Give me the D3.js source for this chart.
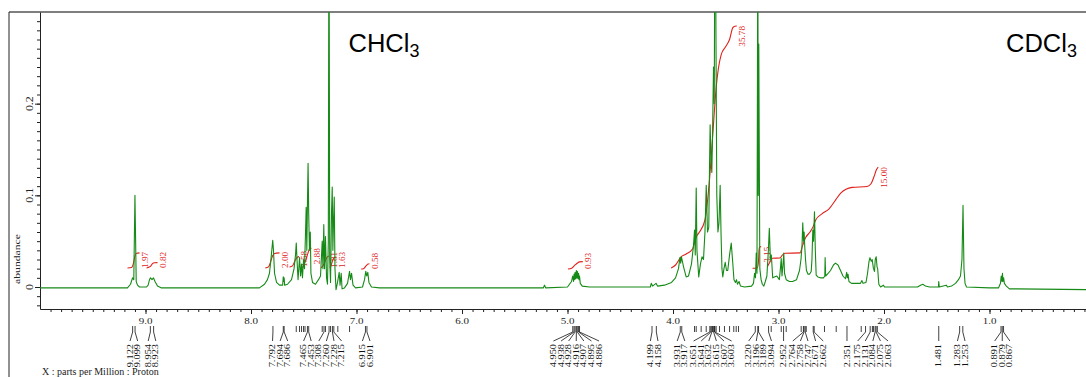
<!DOCTYPE html>
<html><head><meta charset="utf-8">
<script src="https://cdn.jsdelivr.net/npm/d3@7"></script>
<style>
html,body{margin:0;padding:0;background:#fff;}
svg{display:block;}
.serif{font-family:"Liberation Serif","Times New Roman",serif;}
.sans{font-family:"Liberation Sans",Arial,sans-serif;}
</style></head><body>
<svg id="c" width="1086" height="377"></svg>
<script>
// ---------- DATA ----------
const xMajorTicks = [9,8,7,6,5,4,3,2,1];
const xTickLabels = ["9.0","8.0","7.0","6.0","5.0","4.0","3.0","2.0","1.0"];
const yMajorTicks = [0,0.1,0.2];
const yTickLabels = ["0","0.1","0.2"];

// spectrum vertices [ppm, abundance]
const spectrum = [
[10.0,-0.001],[9.171,-0.001],[9.142,0.003],[9.123,0.010],[9.111,0.008],[9.100,0.100],[9.088,0.006],[9.076,0.002],[9.057,0.000],[8.990,0.000],[8.975,0.002],[8.962,0.008],[8.953,0.010],[8.938,0.008],[8.924,0.010],[8.910,0.006],[8.886,0.001],[8.848,-0.001],
[7.920,-0.001],[7.872,0.003],[7.844,0.008],[7.825,0.015],[7.811,0.030],[7.794,0.051],[7.787,0.040],[7.777,0.015],[7.758,0.005],[7.730,0.002],[7.700,0.002],[7.694,0.011],[7.690,0.006],[7.686,0.010],[7.681,0.002],[7.654,0.003],[7.616,0.008],[7.592,0.020],[7.578,0.035],[7.571,0.048],[7.564,0.030],[7.554,0.008],[7.540,0.032],[7.530,0.012],[7.521,0.025],[7.512,0.010],[7.502,0.030],[7.493,0.020],[7.483,0.060],[7.477,0.087],[7.471,0.040],[7.465,0.090],[7.459,0.135],[7.453,0.080],[7.446,0.040],[7.438,0.060],[7.432,0.015],[7.417,0.005],[7.389,0.003],[7.360,0.008],[7.341,0.012],[7.325,0.050],[7.318,0.020],[7.310,0.068],[7.303,0.020],[7.294,0.055],[7.284,0.010],[7.275,0.003],[7.267,0.050],[7.261,0.450],[7.254,0.030],[7.246,0.005],[7.237,0.080],[7.230,0.109],[7.224,0.040],[7.218,0.070],[7.211,0.098],[7.204,0.020],[7.194,-0.003],[7.180,0.005],[7.164,0.016],[7.156,0.002],[7.145,0.015],[7.137,-0.002],[7.114,-0.001],[7.085,0.004],[7.066,0.017],[7.057,0.008],[7.047,0.015],[7.033,0.002],[7.009,-0.001],[6.943,0.000],[6.924,0.008],[6.912,0.017],[6.903,0.012],[6.893,0.016],[6.882,0.005],[6.858,0.000],[6.782,-0.001],
[5.230,-0.001],[5.218,0.002],[5.206,-0.001],[5.000,0.000],[4.981,0.003],[4.962,0.006],[4.951,0.012],[4.943,0.006],[4.938,0.014],[4.931,0.008],[4.928,0.016],[4.920,0.009],[4.916,0.018],[4.909,0.010],[4.907,0.017],[4.900,0.009],[4.895,0.015],[4.890,0.008],[4.886,0.012],[4.879,0.004],[4.860,0.001],[4.791,0.000],[4.215,0.000],[4.206,0.004],[4.194,0.001],[4.161,0.004],[4.147,0.001],[4.081,0.002],[4.014,0.005],[3.976,0.010],[3.948,0.020],[3.934,0.032],[3.927,0.026],[3.920,0.033],[3.900,0.022],[3.875,0.011],[3.853,0.012],[3.825,0.025],[3.806,0.045],[3.796,0.062],[3.789,0.035],[3.780,0.108],[3.773,0.040],[3.756,0.011],[3.740,0.025],[3.725,0.033],[3.711,0.030],[3.697,0.060],[3.685,0.111],[3.673,0.060],[3.661,0.065],[3.654,0.130],[3.648,0.177],[3.640,0.140],[3.632,0.125],[3.626,0.160],[3.616,0.240],[3.609,0.200],[3.600,0.500],[3.593,0.280],[3.585,0.100],[3.574,0.060],[3.564,0.070],[3.553,0.111],[3.545,0.060],[3.536,0.020],[3.528,0.011],[3.517,0.020],[3.505,0.027],[3.493,0.018],[3.481,0.018],[3.464,0.035],[3.448,0.048],[3.436,0.030],[3.422,0.008],[3.408,0.005],[3.398,0.008],[3.389,0.003],[3.374,0.006],[3.360,0.001],[3.322,0.000],[3.256,0.001],[3.237,0.004],[3.227,0.015],[3.218,0.010],[3.211,0.037],[3.204,0.015],[3.196,0.400],[3.192,0.100],[3.187,0.265],[3.177,0.020],[3.165,0.008],[3.153,0.003],[3.139,0.001],[3.125,0.006],[3.110,0.012],[3.103,0.026],[3.096,0.040],[3.087,0.064],[3.077,0.030],[3.068,0.035],[3.055,0.010],[3.039,0.011],[3.016,0.012],[2.992,0.008],[2.982,0.020],[2.974,0.031],[2.967,0.012],[2.957,0.025],[2.950,0.037],[2.943,0.015],[2.927,0.008],[2.896,0.006],[2.867,0.006],[2.829,0.008],[2.801,0.018],[2.787,0.030],[2.777,0.045],[2.770,0.070],[2.763,0.050],[2.757,0.060],[2.751,0.044],[2.744,0.030],[2.735,0.018],[2.720,0.014],[2.706,0.014],[2.690,0.017],[2.683,0.030],[2.675,0.062],[2.668,0.050],[2.659,0.082],[2.651,0.040],[2.643,0.013],[2.627,0.011],[2.602,0.010],[2.574,0.010],[2.561,0.012],[2.558,0.032],[2.553,0.012],[2.536,0.014],[2.507,0.018],[2.479,0.024],[2.460,0.026],[2.436,0.024],[2.412,0.018],[2.389,0.012],[2.365,0.009],[2.354,0.016],[2.348,0.010],[2.341,0.014],[2.332,0.006],[2.308,0.004],[2.261,0.004],[2.223,0.004],[2.209,0.007],[2.199,0.004],[2.171,0.005],[2.166,0.008],[2.156,0.015],[2.142,0.028],[2.133,0.032],[2.121,0.028],[2.112,0.030],[2.100,0.020],[2.090,0.017],[2.083,0.030],[2.074,0.033],[2.066,0.022],[2.060,0.020],[2.049,0.003],[2.033,0.000],[2.005,0.002],[1.995,0.000],[1.682,0.000],[1.654,0.002],[1.632,0.003],[1.607,0.001],[1.569,0.000],[1.484,0.000],[1.481,0.006],[1.476,0.000],[1.410,0.002],[1.398,0.000],[1.360,0.001],[1.322,0.004],[1.294,0.008],[1.275,0.012],[1.261,0.030],[1.251,0.089],[1.242,0.020],[1.232,0.004],[1.218,0.000],[1.000,-0.001],[0.915,-0.001],[0.896,0.004],[0.889,0.012],[0.882,0.006],[0.877,0.015],[0.872,0.006],[0.866,0.010],[0.859,0.004],[0.840,0.001],[0.811,-0.002],[0.000,-0.003]
];

// integral curves [ppm, abundance]
const int197 = [[9.171,0.0208],[9.133,0.0212],[9.114,0.026],[9.100,0.034],[9.085,0.0368],[9.057,0.0372]];
const int082 = [[8.990,0.0208],[8.953,0.0225],[8.934,0.0255],[8.915,0.0264],[8.886,0.0266]];
const int200 = [[7.865,0.0208],[7.834,0.022],[7.815,0.027],[7.799,0.033],[7.777,0.0365],[7.730,0.0372]];
const int158 = [[7.635,0.0219],[7.607,0.023],[7.582,0.029],[7.560,0.0325],[7.545,0.0331]];
const int288 = [[7.524,0.0208],[7.502,0.023],[7.479,0.030],[7.460,0.037],[7.446,0.0415],[7.427,0.0423]];
const int181 = [[7.335,0.0208],[7.313,0.024],[7.294,0.029],[7.275,0.033],[7.261,0.0339]];
const int163 = [[7.252,0.0208],[7.237,0.025],[7.223,0.030],[7.209,0.0322],[7.190,0.0327]];
const int058 = [[6.956,0.0197],[6.934,0.0200],[6.910,0.0230],[6.891,0.0250],[6.877,0.0253]];
const int093 = [[4.996,0.0197],[4.961,0.0205],[4.933,0.0235],[4.905,0.0262],[4.886,0.0274],[4.855,0.0277]];
const int3578 = [[4.018,0.0208],[3.976,0.024],[3.924,0.0328],[3.875,0.036],[3.815,0.0415],[3.780,0.0546],[3.749,0.060],[3.697,0.0732],[3.654,0.117],[3.622,0.168],[3.590,0.2186],[3.569,0.239],[3.543,0.2536],[3.502,0.262],[3.464,0.270],[3.433,0.283],[3.412,0.2845],[3.395,0.2847]];
const int315 = [[3.246,0.0204],[3.201,0.0208],[3.190,0.0273],[3.185,0.040],[3.180,0.0437],[3.164,0.044]];
const int1500 = [[3.107,0.0219],[3.081,0.0273],[3.059,0.0314],[2.986,0.0317],[2.962,0.035],[2.938,0.0368],[2.796,0.0372],[2.773,0.0448],[2.744,0.0536],[2.701,0.060],[2.673,0.0656],[2.647,0.0732],[2.588,0.0798],[2.521,0.0852],[2.458,0.0951],[2.408,0.1027],[2.361,0.1066],[2.303,0.1087],[2.161,0.1096],[2.123,0.1126],[2.095,0.1202],[2.072,0.1279],[2.055,0.1308]];
const integralValues = ["1.97","0.82","2.00","1.58","2.88","1.81","1.63","0.58","0.93","35.78","3.15","15.00"];

// peak picking
const peakLabels = ["9.122","9.099","8.954","8.923","7.792","7.694","7.686","7.465","7.453","7.308","7.260","7.228","7.215","6.915","6.901","4.950","4.938","4.928","4.916","4.907","4.895","4.886","4.199","4.158","3.931","3.917","3.651","3.641","3.632","3.615","3.607","3.603","3.220","3.196","3.189","3.094","2.952","2.764","2.758","2.747","2.671","2.662","2.351","2.175","2.131","2.084","2.075","2.063","1.481","1.283","1.253","0.891","0.879","0.867"];
const peakMarks = [7.571,7.540,7.521,7.502,7.488,7.325,7.294,7.246,7.177,7.066,3.796,3.780,3.733,3.685,3.626,3.591,3.559,3.512,3.464,3.424,3.401,3.379,3.069,2.974,2.927,2.785,2.737,2.564,2.453,2.216,2.110,2.100];

// ---------- DRAW ----------
const svg = d3.select("#c");
const L = 40, R = 1095, T = 12, B = 309;
const x = d3.scaleLinear().domain([10,0]).range([L,R]);
const y = d3.scaleLinear().domain([-0.024,0.3]).range([B,T]);
const axisColor = "#222";

svg.append("defs").append("clipPath").attr("id","plot")
  .append("rect").attr("x",L).attr("y",T).attr("width",1086-L).attr("height",B-T);

// frame
svg.append("line").attr("x1",9).attr("x2",1086).attr("y1",T).attr("y2",T).attr("stroke","#000").attr("stroke-width",1.2);
svg.append("line").attr("x1",9).attr("x2",9).attr("y1",T).attr("y2",377).attr("stroke",axisColor).attr("stroke-width",1);

// x axis
const minorX = d3.range(1,100).map(i=>+(i/10).toFixed(1));
const gx = svg.append("g").attr("transform",`translate(0,${B})`)
  .call(d3.axisBottom(x).tickValues(minorX).tickSize(3).tickFormat("").tickSizeOuter(0));
const gx2 = svg.append("g").attr("transform",`translate(0,${B})`)
  .call(d3.axisBottom(x).tickValues(xMajorTicks).tickSize(5).tickFormat("").tickSizeOuter(0));
gx2.select(".domain").remove();
[gx,gx2].forEach(g=>g.selectAll("line,path").attr("stroke",axisColor));
svg.selectAll(".xlab").data(xMajorTicks).enter().append("text").attr("class","serif")
  .attr("transform",d=>`translate(${x(d)},323.5) scale(1.28,1)`)
  .attr("text-anchor","middle").attr("font-size",8.6).attr("fill","#222")
  .text((d,i)=>xTickLabels[i]);

// y axis
const minorY = d3.range(-2,30).map(i=>i/100);
const gy = svg.append("g").attr("transform",`translate(${L},0)`)
  .call(d3.axisLeft(y).tickValues(minorY).tickSize(3).tickFormat("").tickSizeOuter(0));
const gy2 = svg.append("g").attr("transform",`translate(${L},0)`)
  .call(d3.axisLeft(y).tickValues(yMajorTicks).tickSize(5).tickFormat("").tickSizeOuter(0));
gy2.select(".domain").remove();
[gy,gy2].forEach(g=>g.selectAll("line,path").attr("stroke",axisColor));
svg.selectAll(".ylab").data(yMajorTicks).enter().append("text").attr("class","serif")
  .attr("transform",(d)=>`translate(33.3,${y(d)}) rotate(-90) scale(1.25,1)`)
  .attr("text-anchor","middle").attr("font-size",9.5).attr("fill","#222")
  .text((d,i)=>yTickLabels[i]);
svg.append("text").attr("class","serif").attr("transform","translate(19.5,259) rotate(-90) scale(1.3,1)")
  .attr("text-anchor","middle").attr("font-size",9).attr("fill","#222").text("abundance");
svg.append("text").attr("class","serif").attr("x",42).attr("y",375).attr("font-size",10).attr("fill","#222").text("X : parts per Million : Proton");

// integrals
const integralCurves = [int197,int082,int200,int158,int288,int181,int163,int058,int093,int3578,int315,int1500];
const plot = svg.append("g").attr("clip-path","url(#plot)");
const iline = d3.line().x(d=>x(d[0])).y(d=>y(d[1])).curve(d3.curveMonotoneX);
const red = "#e0201a";
const isx = 1.15;
integralCurves.forEach((c,i)=>{
  plot.append("path").attr("d",iline(c)).attr("fill","none").attr("stroke",red).attr("stroke-width",1.1);
  const last = c[c.length-1], first = c[0];
  const t = plot.append("text").attr("class","serif").attr("font-size",8).attr("fill",red).text(integralValues[i]);
  const len = t.node().getComputedTextLength()*isx;
  const topY = Math.min(y(last[1]), y(first[1]) - len);
  t.attr("text-anchor","end").attr("dy","0.35em")
   .attr("transform",`translate(${x(last[0])+5.5},${topY}) rotate(-90) scale(${isx},1)`);
});

// spectrum
const sline = d3.line().x(d=>x(d[0])).y(d=>y(d[1]));
plot.append("path").attr("d",sline(spectrum)).attr("fill","none").attr("stroke","#168a16").attr("stroke-width",1.1).attr("stroke-linejoin","round");

// solvent labels
function solvent(txt, px){
  const t = svg.append("text").attr("class","sans").attr("x",px).attr("y",52).attr("font-size",25.5).attr("fill","#000");
  t.append("tspan").text(txt);
  t.append("tspan").attr("font-size",18).attr("dy",5).text("3");
}
solvent("CHCl",348.5);
solvent("CDCl",1006);

// peak picking marks
const pk = svg.append("g").attr("stroke","#111").attr("stroke-width",0.8);
peakMarks.forEach(p=>{
  pk.append("line").attr("x1",x(p)).attr("x2",x(p)).attr("y1",326).attr("y2",332);
});
function layoutLabels(px, gap){
  let groups = px.map((p,i)=>({s:i,e:i,sum:p}));
  const pos = g => g.sum/(g.e-g.s+1) - (g.e-g.s)*gap/2;
  let merged = true;
  while(merged){
    merged = false;
    for(let i=0;i<groups.length-1;i++){
      const a=groups[i], b=groups[i+1];
      const aLast = pos(a)+(a.e-a.s)*gap;
      if(pos(b)-aLast < gap-0.01){ groups.splice(i,2,{s:a.s,e:b.e,sum:a.sum+b.sum}); merged=true; break; }
    }
  }
  const out=[];
  groups.forEach(g=>{const p0=pos(g); for(let k=g.s;k<=g.e;k++) out[k]=p0+(k-g.s)*gap;});
  return out;
}
const peakX = peakLabels.map(s=>x(+s));
const labX = layoutLabels(peakX, 7.6);
peakLabels.forEach((s,i)=>{
  pk.append("path").attr("fill","none").attr("d",`M${peakX[i]},326V332L${labX[i]},341`);
  svg.append("text").attr("class","serif").attr("font-size",7.3).attr("fill","#111").attr("text-anchor","end").attr("dy","0.35em")
    .attr("transform",`translate(${labX[i]},344) rotate(-90) scale(1.42,1)`).text(s);
});
</script>
</body></html>
